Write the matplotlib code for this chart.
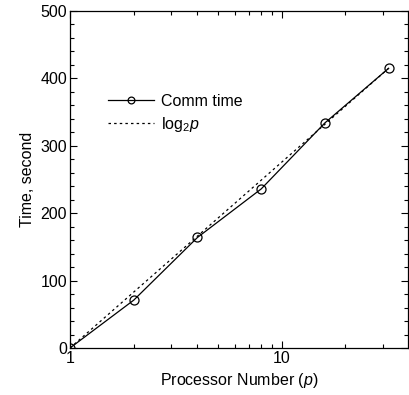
import numpy as np
import matplotlib
matplotlib.use("Agg")
import matplotlib.pyplot as plt
from matplotlib.ticker import MultipleLocator, LogLocator, NullFormatter

# -------- data --------
procs = [1, 2, 4, 8, 16, 32]
comm_time = [0, 71, 164, 236, 334, 415]
log2_ref = [0, 83, 166, 249, 332, 415]

plt.rcParams['font.family'] = ['Liberation Sans', 'DejaVu Sans']
plt.rcParams['mathtext.fontset'] = 'custom'
plt.rcParams['mathtext.rm'] = 'Liberation Sans'
plt.rcParams['mathtext.it'] = 'Liberation Sans:italic'
plt.rcParams['font.size'] = 11.5

fig = plt.figure(figsize=(4.09, 3.95), dpi=100)
ax = fig.add_axes([70/409, 1-348/395, 338/409, 337/395])

ax.plot(procs, comm_time, 'k-', marker='o', mfc='none', ms=6.5, mew=0.9, lw=0.9,
        label='Comm time')
ax.plot(procs, log2_ref, color='k', ls=(0, (2, 2.5)), lw=0.9, label=r'log$_2$$p$')

ax.set_xscale('log')
ax.set_xlim(1, 39.5)
ax.set_ylim(0, 500)
ax.yaxis.set_major_locator(MultipleLocator(100))
ax.yaxis.set_minor_locator(MultipleLocator(20))
ax.xaxis.set_minor_locator(LogLocator(base=10, subs=np.arange(2, 10)))
ax.xaxis.set_minor_formatter(NullFormatter())
ax.set_xticks([1, 10])
ax.set_xticklabels(['1', '10'])
ax.tick_params(which='both', direction='in', top=True, right=True, width=0.8)
ax.tick_params(which='major', length=5, pad=2)
ax.tick_params(which='minor', length=3)
for s in ax.spines.values():
    s.set_linewidth(0.9)

ax.set_xlabel(r'Processor Number ($p$)', labelpad=4)
ax.set_ylabel('Time, second', labelpad=4)

ax.legend(loc='upper left', bbox_to_anchor=(0.112, 0.755), frameon=False, numpoints=1,
          markerscale=0.75, handlelength=2.9, handletextpad=0.4, labelspacing=0.38,
          borderpad=0, borderaxespad=0)

fig.savefig('out.png', dpi=100)
